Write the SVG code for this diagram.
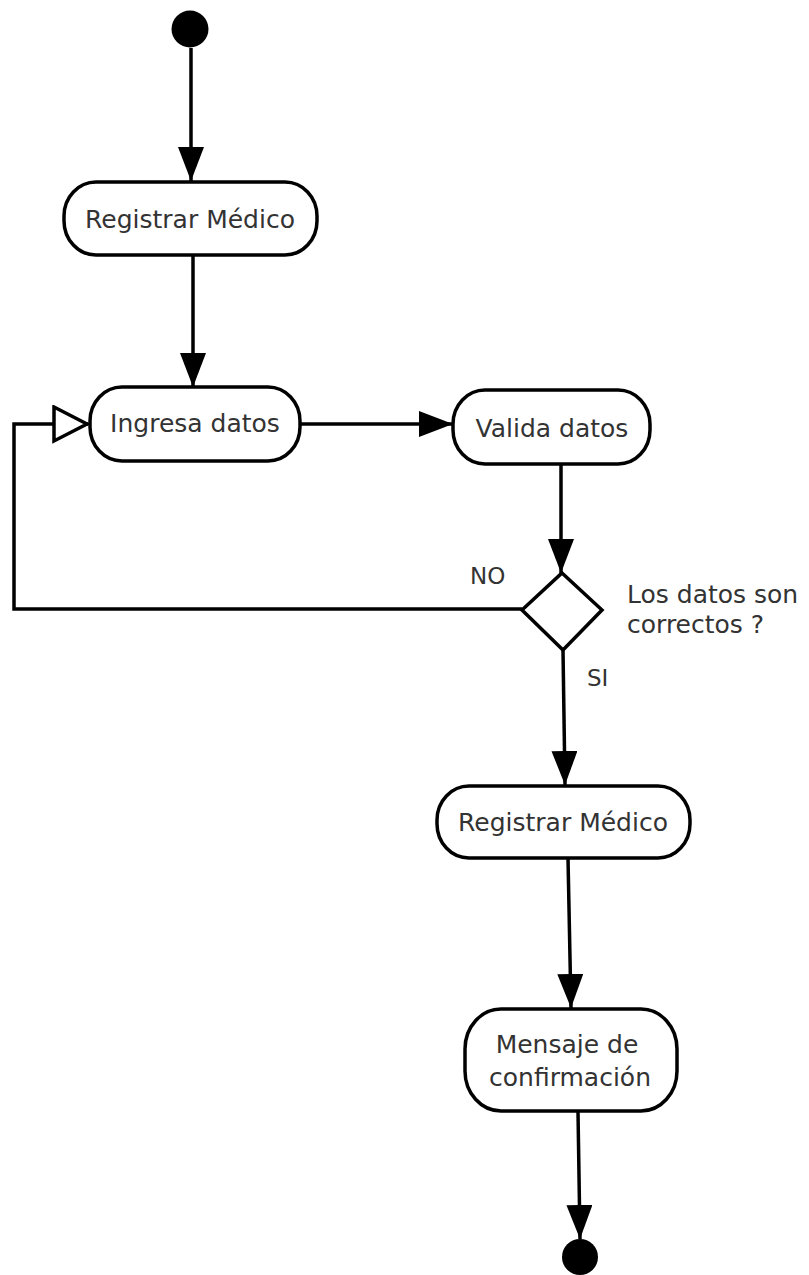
<svg xmlns="http://www.w3.org/2000/svg" width="809" height="1275" viewBox="0 0 809 1275">
  <style>
    .act { fill: #ffffff; stroke: #000000; stroke-width: 3.5; }
    .flow { fill: none; stroke: #000000; stroke-width: 3.5; }
    .lbl { font-family: "DejaVu Sans", Verdana, sans-serif; font-size: 25px; fill: #333333; }
    .guard { font-family: "DejaVu Sans", Verdana, sans-serif; font-size: 23px; fill: #333333; }
    .dot { fill: #000000; }
  </style>
  <defs>
    <marker id="arrow" markerUnits="userSpaceOnUse" markerWidth="36" markerHeight="26" refX="34" refY="13" orient="auto">
      <path d="M0,0 L34,13 L0,26 z" fill="#000000"/>
    </marker>
    <marker id="arrowOpen" markerUnits="userSpaceOnUse" markerWidth="40" markerHeight="40" refX="36" refY="19" orient="auto">
      <path d="M2,2 L35,19 L2,36 z" fill="#ffffff" stroke="#000000" stroke-width="3.5"/>
    </marker>
  </defs>

  <rect width="809" height="1275" fill="#ffffff"/>

  <!-- connectors -->
  <g id="connectors">
    <path class="flow" d="M191,48 L191,181" marker-end="url(#arrow)"/>
    <path class="flow" d="M193,255 L193,387" marker-end="url(#arrow)"/>
    <path class="flow" d="M300,424 L453,424" marker-end="url(#arrow)"/>
    <path class="flow" d="M561,464 L561,573" marker-end="url(#arrow)"/>
    <path class="flow" d="M522,609 L14,609 L14,424 L88,424" marker-end="url(#arrowOpen)"/>
    <path class="flow" d="M563,650 L565,785" marker-end="url(#arrow)"/>
    <path class="flow" d="M568,858 L571,1008" marker-end="url(#arrow)"/>
    <path class="flow" d="M578,1112 L580,1239" marker-end="url(#arrow)"/>
    <text class="guard" x="470" y="584">NO</text>
    <text class="guard" x="587" y="686">SI</text>
  </g>

  <!-- start -->
  <g id="start">
    <circle class="dot" cx="190" cy="29" r="18.5"/>
  </g>

  <g id="registrar1">
    <rect class="act" x="64" y="182" width="253" height="73" rx="32" ry="34"/>
    <text class="lbl" x="190" y="228" text-anchor="middle">Registrar Médico</text>
  </g>

  <g id="ingresa">
    <rect class="act" x="90" y="387" width="210" height="74" rx="32" ry="34"/>
    <text class="lbl" x="195" y="432" text-anchor="middle">Ingresa datos</text>
  </g>

  <g id="valida">
    <rect class="act" x="453" y="390" width="197" height="74" rx="32" ry="34"/>
    <text class="lbl" x="552" y="437" text-anchor="middle">Valida datos</text>
  </g>

  <g id="decision">
    <polygon class="act" points="562,573 602,610 563,650 522,610"/>
    <text class="lbl" x="627" y="603">Los datos son</text>
    <text class="lbl" x="627" y="633">correctos ?</text>
  </g>

  <g id="registrar2">
    <rect class="act" x="437" y="786" width="253" height="72" rx="32" ry="34"/>
    <text class="lbl" x="563" y="831" text-anchor="middle">Registrar Médico</text>
  </g>

  <g id="mensaje">
    <rect class="act" x="465" y="1009" width="212" height="102" rx="36" ry="40"/>
    <text class="lbl" x="567" y="1053" text-anchor="middle">Mensaje de</text>
    <text class="lbl" x="570" y="1086" text-anchor="middle">confirmación</text>
  </g>

  <!-- end -->
  <g id="end">
    <circle class="dot" cx="580" cy="1257" r="18"/>
  </g>
</svg>
